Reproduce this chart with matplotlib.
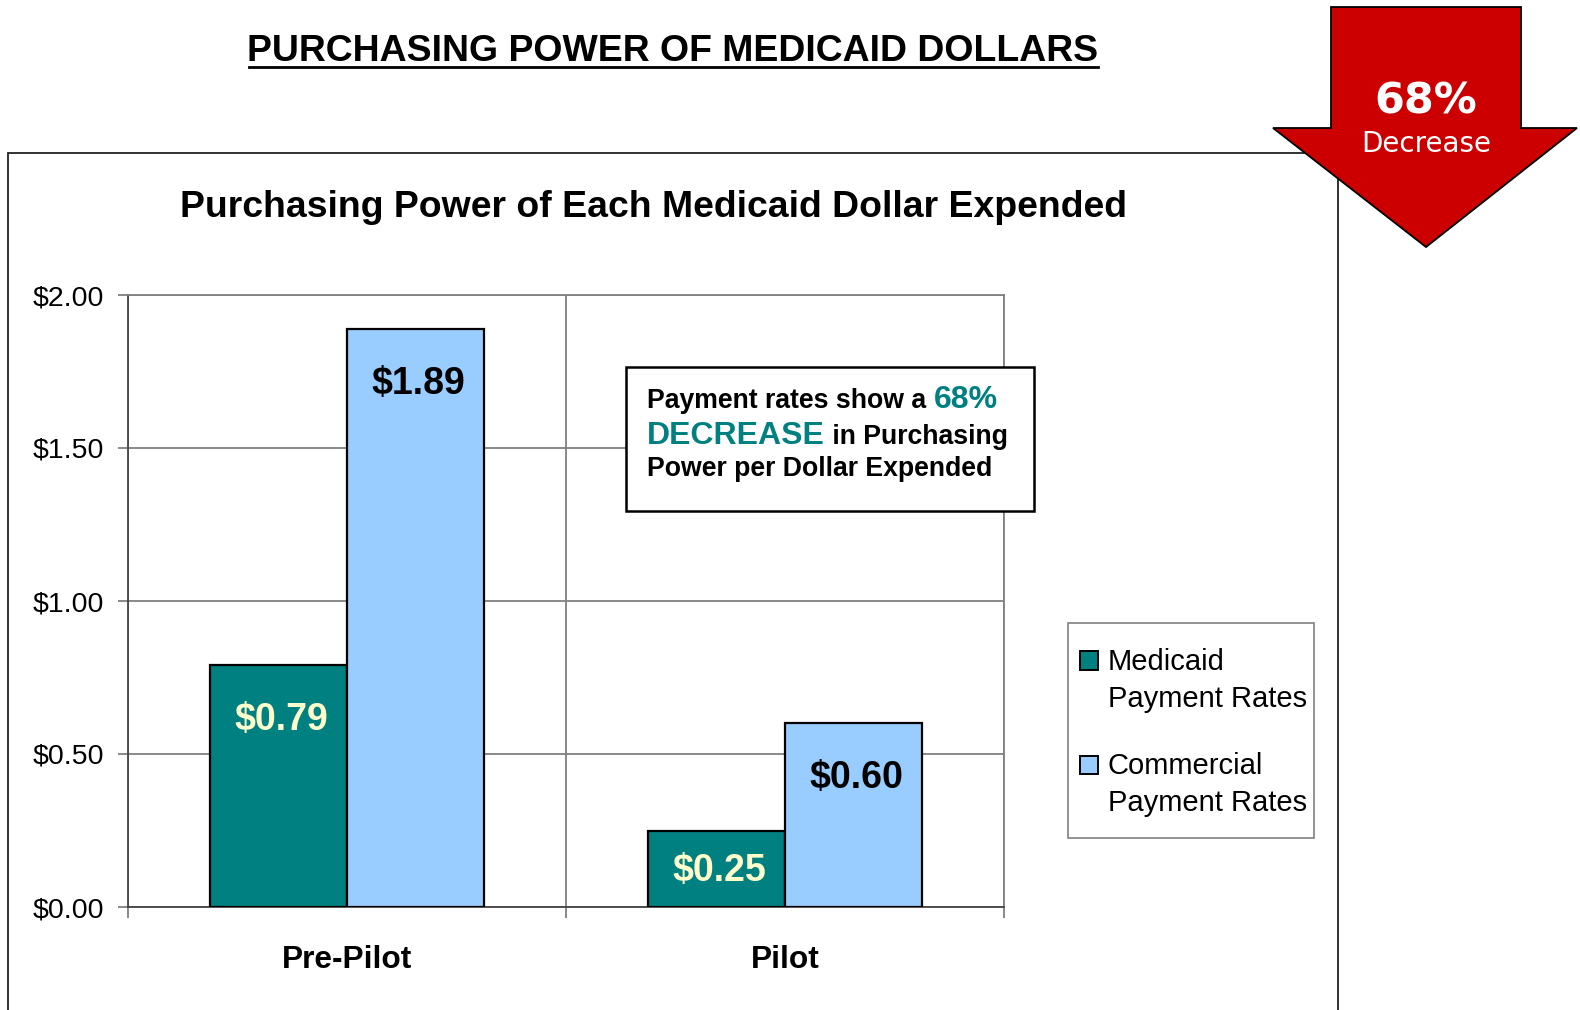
import matplotlib
matplotlib.use("Agg")
import matplotlib.pyplot as plt
import matplotlib.transforms as mtransforms
import numpy as np
from matplotlib.patches import Polygon, Rectangle
from matplotlib.lines import Line2D
from matplotlib.legend_handler import HandlerBase

# ---- data ----
categories = ["Pre-Pilot", "Pilot"]
medicaid = [0.79, 0.25]
commercial = [1.89, 0.60]
series_names = ["Medicaid\nPayment Rates", "Commercial\nPayment Rates"]
y_ticks = [0.0, 0.5, 1.0, 1.5, 2.0]
y_tick_labels = ["$0.00", "$0.50", "$1.00", "$1.50", "$2.00"]
main_title = "PURCHASING POWER OF MEDICAID DOLLARS"
chart_title = "Purchasing Power of Each Medicaid Dollar Expended"
arrow_big = "68%"
arrow_small = "Decrease"

TEAL = "#008080"
LBLUE = "#99CCFF"
RED = "#CC0000"
LABEL_LIGHT = "#FFFFCC"
GRID = "#808080"

W, H = 1580, 1010
plt.rcParams["font.family"] = ["Liberation Sans", "DejaVu Sans"]
fig = plt.figure(figsize=(W / 100, H / 100), dpi=100)


def fx(px):
    return px / W


def fy(py):
    return 1 - py / H


# outer frame of chart area
fig.patches.append(Rectangle((fx(8), fy(1015)), fx(1338) - fx(8), fy(153) - fy(1015),
                             transform=fig.transFigure, fill=False, edgecolor="#222222",
                             linewidth=1.3, zorder=1))

ax = fig.add_axes([fx(128), fy(907), fx(1004) - fx(128), fy(295) - fy(907)])
x = np.arange(len(categories)) + 0.5
bw = 0.3125
b1 = ax.bar(x - bw / 2, medicaid, bw, color=TEAL, edgecolor="black", linewidth=1.6,
            label=series_names[0], zorder=3)
b2 = ax.bar(x + bw / 2, commercial, bw, color=LBLUE, edgecolor="black", linewidth=1.6,
            label=series_names[1], zorder=3)

ax.set_xlim(0, len(categories))
ax.set_ylim(0, 2.0)
ax.set_yticks(y_ticks)
ax.set_yticklabels(y_tick_labels, fontsize=20.5)
ax.tick_params(axis="y", length=7, width=1.3, color=GRID, pad=10)
ax.set_xticks(np.arange(len(categories) + 1))
ax.set_xticklabels([])
ax.set_xticks(x, minor=True)
ax.set_xticklabels(categories, minor=True, fontsize=22.8, fontweight="bold")
ax.tick_params(axis="x", which="major", length=8, width=1.3, color=GRID)
ax.tick_params(axis="x", which="minor", length=0, pad=27)
ax.grid(True, which="major", color=GRID, linewidth=1.3, zorder=0)
ax.set_axisbelow(True)
for s in ax.spines.values():
    s.set_color(GRID)
    s.set_linewidth(1.3)
ax.spines["left"].set_color("#444444")
ax.spines["bottom"].set_color("#444444")


# bar value labels
def label_bars(bars, vals, color):
    for rect, v in zip(bars, vals):
        hpx = v / 2.0 * (907 - 295)
        off = -min(55, hpx / 2 + 2)
        ax.annotate(f"${v:.2f}", xy=(rect.get_x() + rect.get_width() / 2, v),
                    xytext=(2, off * 0.72), textcoords="offset points",
                    ha="center", va="center", fontsize=27, fontweight="bold",
                    color=color, zorder=5)


label_bars(b1, medicaid, LABEL_LIGHT)
label_bars(b2, commercial, "black")

# legend (frame drawn separately)
LEG_FS = 21


class TopSquare(HandlerBase):
    def create_artists(self, legend, orig_handle, xdescent, ydescent, width, height,
                       fontsize, trans):
        s = 0.62 * fontsize
        yc = 1.06 * fontsize
        p = Rectangle((-xdescent, yc - s / 2), s, s, facecolor=orig_handle.get_facecolor(),
                      edgecolor="black", linewidth=1.4, transform=trans)
        return [p]


leg = fig.legend(handles=[b1.patches[0], b2.patches[0]], labels=series_names,
                 handler_map={Rectangle: TopSquare()},
                 loc="upper left", bbox_to_anchor=(fx(1080), fy(648)),
                 bbox_transform=fig.transFigure, borderaxespad=0, borderpad=0,
                 fontsize=LEG_FS, frameon=False,
                 handlelength=0.62, handleheight=0.7, handletextpad=0.33,
                 labelspacing=1.36)
for t in leg.get_texts():
    t.set_linespacing(1.40)
fig.patches.append(Rectangle((fx(1068), fy(838)), fx(1314) - fx(1068), fy(623) - fy(838),
                             transform=fig.transFigure, fill=False, edgecolor=GRID,
                             linewidth=1.2, zorder=2))

# titles
fig.text(fx(673), fy(61), main_title, ha="center", va="baseline", fontsize=26.9,
         fontweight="bold")
fig.add_artist(Line2D([fx(249), fx(1098)], [fy(66.5), fy(66.5)], color="black",
                      linewidth=2, transform=fig.transFigure))
fig.text(fx(653), fy(217), chart_title, ha="center", va="baseline", fontsize=26.9,
         fontweight="bold")

# callout box
fig.patches.append(Rectangle((fx(626), fy(511)), fx(1034) - fx(626), fy(367) - fy(511),
                             transform=fig.transFigure, facecolor="white",
                             edgecolor="black", linewidth=1.8, zorder=4))
lines = [
    [("Payment rates show a ", "black", 19.2), ("68%", TEAL, 23)],
    [("DECREASE", TEAL, 23), (" in Purchasing", "black", 19.2)],
    [("Power per Dollar Expended", "black", 19.2)],
]
baselines = [408, 444, 476]
blend = mtransforms.blended_transform_factory(mtransforms.IdentityTransform(),
                                              fig.transFigure)
chains = []
for parts, by in zip(lines, baselines):
    prev = None
    for txt, col, sz in parts:
        if prev is None:
            t = fig.text(fx(647), fy(by), txt, ha="left", va="baseline", color=col,
                         fontsize=sz, fontweight="bold", zorder=6)
        else:
            t = fig.text(0, fy(by), txt, ha="left", va="baseline", color=col,
                         fontsize=sz, fontweight="bold", zorder=6, transform=blend)
            chains.append((prev, t))
        prev = t

# red arrow
arrow_pts = [(1331, 7), (1521, 7), (1521, 128), (1577, 128), (1426, 247),
             (1273, 128), (1331, 128)]
fig.patches.append(Polygon([(fx(a), fy(b)) for a, b in arrow_pts], closed=True,
                           transform=fig.transFigure, facecolor=RED, edgecolor="black",
                           linewidth=1.3, zorder=10))
fig.text(fx(1426), fy(101), arrow_big, ha="center", va="center", color="white",
         fontsize=31, fontweight="bold", family=["DejaVu Sans"], zorder=11)
fig.text(fx(1426), fy(144), arrow_small, ha="center", va="center", color="white",
         fontsize=20, family=["DejaVu Sans"], zorder=11)

# place chained callout pieces right after their predecessors
fig.canvas.draw()
r = fig.canvas.get_renderer()
for prev, t in chains:
    bb = prev.get_window_extent(r)
    t.set_x(bb.x1)
fig.savefig("out.png", dpi=100)
